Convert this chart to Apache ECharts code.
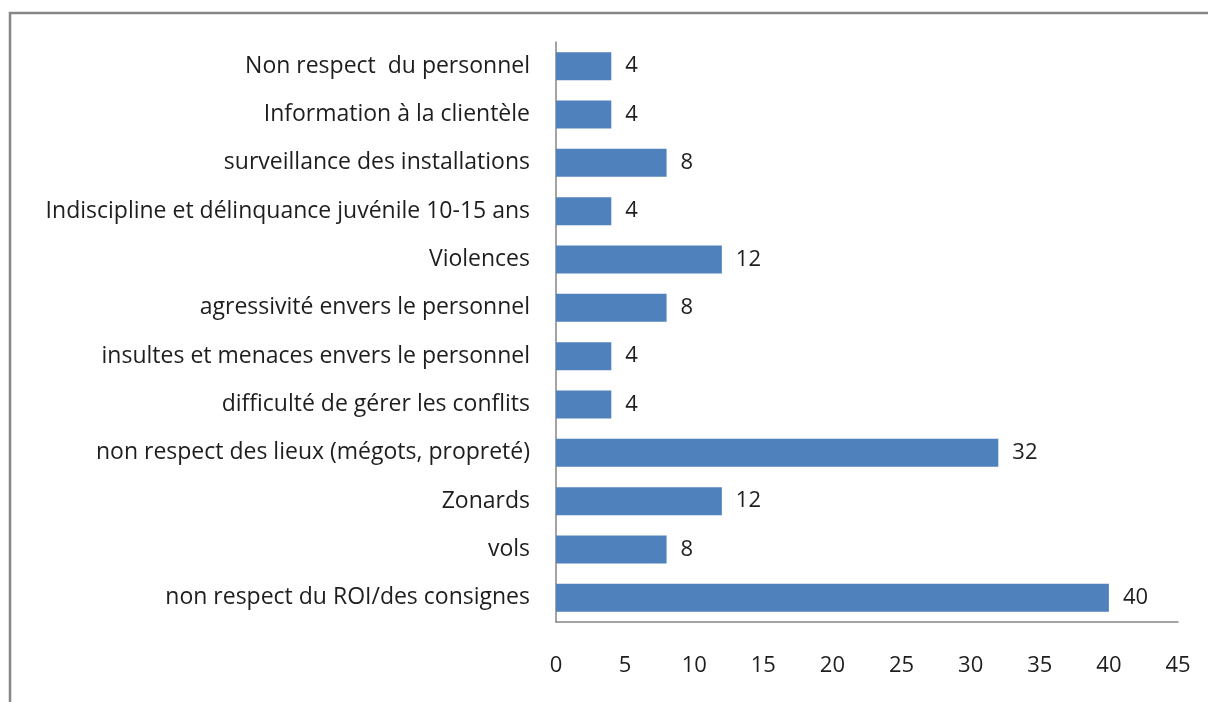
<!DOCTYPE html>
<html>
<head>
<meta charset="utf-8" />
<script src="https://cdn.jsdelivr.net/npm/echarts@6/dist/echarts.min.js"></script>
<style>
  html, body { margin: 0; padding: 0; background: #fff; }
  #main { width: 1208px; height: 702px; }
</style>
</head>
<body>
<div id="main"></div>
<script type="text/javascript">
// categories listed top to bottom
var categories = [
    'Non respect  du personnel',
    'Information à la clientèle',
    'surveillance des installations',
    'Indiscipline et délinquance juvénile 10-15 ans',
    'Violences',
    'agressivité envers le personnel',
    'insultes et menaces envers le personnel',
    'difficulté de gérer les conflits',
    'non respect des lieux (mégots, propreté)',
    'Zonards',
    'vols',
    'non respect du ROI/des consignes'
];
var values = [4, 4, 8, 4, 12, 8, 4, 4, 32, 12, 8, 40];
var xTicks = [0, 45, 5]; // min, max, interval

var fontFam = '"Open Sans", "Noto Sans", sans-serif';
var myChart = echarts.init(document.getElementById('main'));
var option = {
    animation: false,
    graphic: [{
        type: 'rect',
        shape: { x: 10, y: 13, width: 1300, height: 800 },
        style: { fill: 'none', stroke: '#878787', lineWidth: 2.5 },
        silent: true
    }],
    grid: {
        left: 556,
        top: 42,
        width: 622,
        height: 580,
        containLabel: false
    },
    xAxis: {
        type: 'value',
        min: xTicks[0],
        max: xTicks[1],
        interval: xTicks[2],
        splitLine: { show: false },
        axisLine: { show: true, lineStyle: { color: '#868686', width: 1.5 } },
        axisTick: { show: false },
        axisLabel: { color: '#1e1e1e', fontSize: 22, fontFamily: fontFam, margin: 33 }
    },
    yAxis: {
        type: 'category',
        inverse: true,
        data: categories,
        axisLine: { show: true, lineStyle: { color: '#868686', width: 1.5 } },
        axisTick: { show: false },
        axisLabel: { color: '#1e1e1e', fontSize: 23, fontFamily: fontFam, margin: 26, padding: [4, 0, 0, 0] }
    },
    series: [{
        type: 'bar',
        data: values,
        barWidth: 28,
        itemStyle: { color: '#4F81BD' },
        label: {
            show: true,
            position: 'right',
            distance: 14,
            color: '#1e1e1e',
            fontSize: 22,
            fontFamily: fontFam,
            padding: [4, 0, 0, 0]
        }
    }]
};
myChart.setOption(option);
</script>
</body>
</html>
